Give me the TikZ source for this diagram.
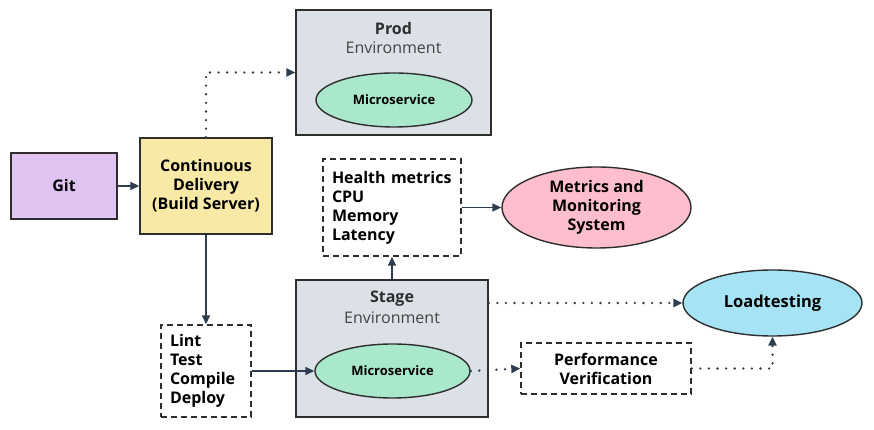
\documentclass[tikz,border=0pt]{standalone}
\usepackage{fontspec}
\setmainfont{Open Sans}
\usepackage{tikz}
\usetikzlibrary{arrows.meta,shapes.geometric}
\definecolor{ink}{HTML}{2E2E2E}
\definecolor{slate}{HTML}{2E3D4D}
\definecolor{lilac}{HTML}{DFC3F1}
\definecolor{butter}{HTML}{F8E9A7}
\definecolor{envgray}{HTML}{DCE1E8}
\definecolor{mint}{HTML}{A9E8CA}
\definecolor{blush}{HTML}{FFBECD}
\definecolor{sky}{HTML}{A5E3F5}

\tikzset{
  stagebox/.style={rectangle,draw=ink,line width=1.4pt,inner sep=0pt},
  textbox/.style={rectangle,draw=ink,line width=1.4pt,align=center,font=\fontsize{16}{19}\selectfont\bfseries,inner sep=0pt},
  dashbox/.style={rectangle,draw=ink,line width=1.4pt,dash pattern=on 6pt off 4pt,font=\fontsize{16}{19}\selectfont\bfseries,inner sep=0pt},
  blob/.style={ellipse,draw=ink,line width=1.4pt,align=center,font=\fontsize{16}{19}\selectfont\bfseries,inner sep=0pt},
  flow/.style={-{Triangle[length=9pt,width=8pt]},slate,line width=1.5pt},
  dotflow/.style={-{Triangle[length=9pt,width=8pt]},slate,line width=2.6pt,dash pattern=on 0pt off 8.6pt,line cap=round},
}

\begin{document}
\begin{tikzpicture}[x=1pt,y=1pt]
\useasboundingbox (0,0) rectangle (874,430);

% sources
\node[textbox,fill=lilac,minimum width=106pt,minimum height=66pt] (git) at (64,244) {Git};
\node[textbox,fill=butter,minimum width=132pt,minimum height=96pt] (cd) at (206,244) {Continuous\\Delivery\\(Build Server)};

% prod environment
\node[stagebox,fill=envgray,minimum width=195pt,minimum height=125pt] (prod) at (393.5,357.5) {};
\node[font=\fontsize{16}{19}\selectfont\bfseries,text=ink] (prodtitle) at (393.5,401) {Prod};
\node[font=\fontsize{16}{19}\selectfont,text=ink!90] (prodenv) at (393.5,382) {Environment};
\node[blob,fill=mint,minimum width=156pt,minimum height=54pt,font=\fontsize{13}{15}\selectfont\bfseries] (prodms) at (394,330) {Microservice};

% stage environment
\node[stagebox,fill=envgray,minimum width=192pt,minimum height=137pt] (stage) at (392,81.5) {};
\node[font=\fontsize{16}{19}\selectfont\bfseries,text=ink] (stagetitle) at (392,131) {Stage};
\node[font=\fontsize{16}{19}\selectfont,text=ink!90] (stageenv) at (392,112) {Environment};
\node[blob,fill=mint,minimum width=155pt,minimum height=54pt,font=\fontsize{13}{15}\selectfont\bfseries] (stagems) at (392.5,59) {Microservice};

% dashed steps
\node[dashbox,minimum width=138pt,minimum height=97pt,text width=120pt,align=left] (health) at (392,222.5) {Health metrics\\CPU\\Memory\\Latency};
\node[dashbox,minimum width=90pt,minimum height=92pt,text width=72pt,align=left] (lint) at (206,59) {Lint\\Test\\Compile\\Deploy};
\node[dashbox,minimum width=170pt,minimum height=51pt,align=center] (perf) at (606,61.5) {Performance\\Verification};

% ellipses
\node[blob,fill=blush,minimum width=189pt,minimum height=81pt] (metrics) at (596.5,222.5) {Metrics and\\Monitoring\\System};
\node[blob,fill=sky,minimum width=179pt,minimum height=66pt,font=\fontsize{16.5}{19}\selectfont\bfseries] (load) at (772.5,127) {Loadtesting};

% connectors
\draw[flow] (git) -- (cd);
\draw[dotflow] (cd.north) |- (prod.west);
\draw[flow] (cd) -- (lint);
\draw[flow] (lint.east) -- (stagems.west);
\draw[flow] (stage) -- (health);
\draw[flow] (health) -- (metrics);
\draw[dotflow] (load.west -| stage.east) -- (load.west);
\draw[dotflow] (stagems.east) -- (perf.west);
\draw[dotflow] (perf.east) -| (load.south);
\end{tikzpicture}
\end{document}
